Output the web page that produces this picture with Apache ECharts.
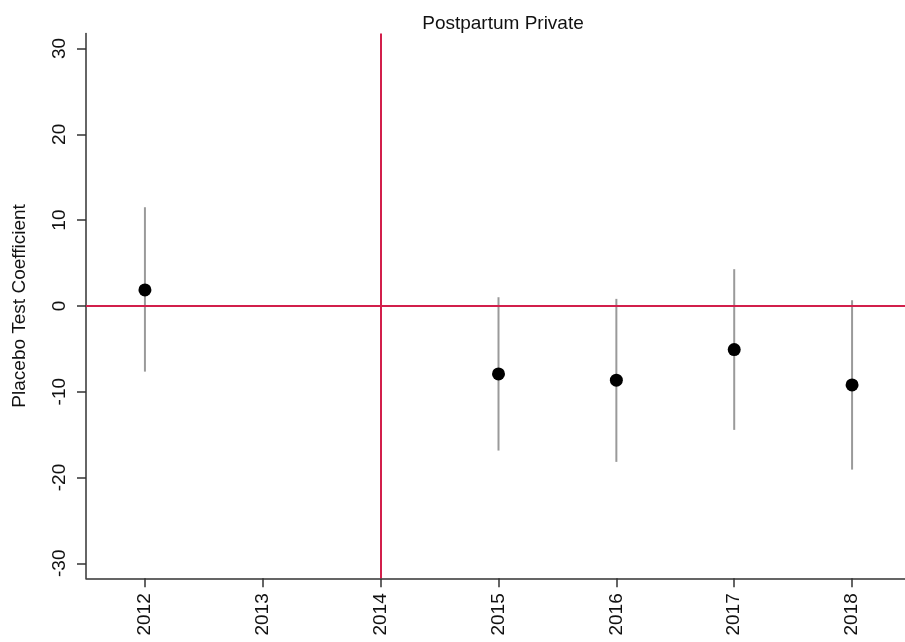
<!DOCTYPE html>
<html>
<head>
<meta charset="utf-8">
<style>
  html, body { margin: 0; padding: 0; background: #fff; }
  #chart { width: 905px; height: 642px; }
</style>
<script src="https://cdn.jsdelivr.net/npm/echarts@6/dist/echarts.min.js"></script>
</head>
<body>
<div id="chart"></div>
<script>
// Placebo test estimates by year, with 95% confidence bounds
const years = ['2012', '2013', '2014', '2015', '2016', '2017', '2018'];
const estYears = ['2012', '2015', '2016', '2017', '2018'];
const coef = [1.86, -7.93, -8.66, -5.09, -9.21];
const ciLow = [-7.66, -16.86, -18.18, -14.45, -19.08];
const ciHigh = [11.5, 1.01, 0.82, 4.28, 0.66];
const yTicks = [-30, -20, -10, 0, 10, 20, 30];
const policyYear = '2014';

const FONT = '"Liberation Sans", Arial, Helvetica, sans-serif';
const RED = '#d21f4b';

const chart = echarts.init(document.getElementById('chart'), null, { renderer: 'canvas' });

const ciData = estYears.map((y, i) => [y, ciLow[i], ciHigh[i]]);
const ptData = estYears.map((y, i) => [y, coef[i]]);

chart.setOption({
  animation: false,
  backgroundColor: '#ffffff',
  title: {
    text: 'Postpartum Private',
    left: 498,
    top: 9,
    textAlign: 'center',
    textStyle: { fontFamily: FONT, fontSize: 19, fontWeight: 'normal', color: '#111' }
  },
  grid: {
    left: 86, right: -6, top: 33.5, bottom: 63.7,
    containLabel: false, outerBoundsMode: 'none'
  },
  xAxis: {
    type: 'category',
    data: years,
    boundaryGap: true,
    axisLine: { show: true, onZero: false, lineStyle: { color: '#333', width: 1.5 } },
    axisTick: { show: true, alignWithLabel: true, length: 9, lineStyle: { color: '#333', width: 1.5 } },
    axisLabel: {
      rotate: 90, margin: 15, fontFamily: FONT, fontSize: 19, color: '#111', interval: 0
    },
    splitLine: { show: false }
  },
  yAxis: {
    type: 'value',
    min: -31.75,
    max: 31.75,
    name: 'Placebo Test Coefficient',
    nameLocation: 'middle',
    nameGap: 57,
    nameRotate: 90,
    nameTextStyle: { fontFamily: FONT, fontSize: 19, color: '#111' },
    axisLine: { show: true, onZero: false, lineStyle: { color: '#333', width: 1.5 } },
    axisTick: { show: true, length: 9, customValues: yTicks, lineStyle: { color: '#333', width: 1.5 } },
    axisLabel: {
      rotate: 90, margin: 17, fontFamily: FONT, fontSize: 19, color: '#111',
      customValues: yTicks
    },
    splitLine: { show: false }
  },
  series: [
    {
      // reference lines at zero and at the policy year
      type: 'line',
      data: [],
      silent: true,
      z: 1,
      markLine: {
        symbol: 'none',
        silent: true,
        label: { show: false },
        lineStyle: { color: RED, width: 2, type: 'solid' },
        data: [{ yAxis: 0 }, { xAxis: policyYear }]
      }
    },
    {
      // confidence intervals
      type: 'custom',
      z: 2,
      data: ciData,
      encode: { x: 0, y: [1, 2] },
      renderItem: function (params, api) {
        const x = api.value(0);
        const lo = api.coord([x, api.value(1)]);
        const hi = api.coord([x, api.value(2)]);
        return {
          type: 'line',
          shape: { x1: lo[0], y1: lo[1], x2: hi[0], y2: hi[1] },
          style: { stroke: '#9a9a9a', lineWidth: 2 }
        };
      }
    },
    {
      type: 'scatter',
      z: 3,
      data: ptData,
      symbol: 'circle',
      symbolSize: 13,
      itemStyle: { color: '#000', opacity: 1 }
    }
  ]
});
</script>
</body>
</html>
